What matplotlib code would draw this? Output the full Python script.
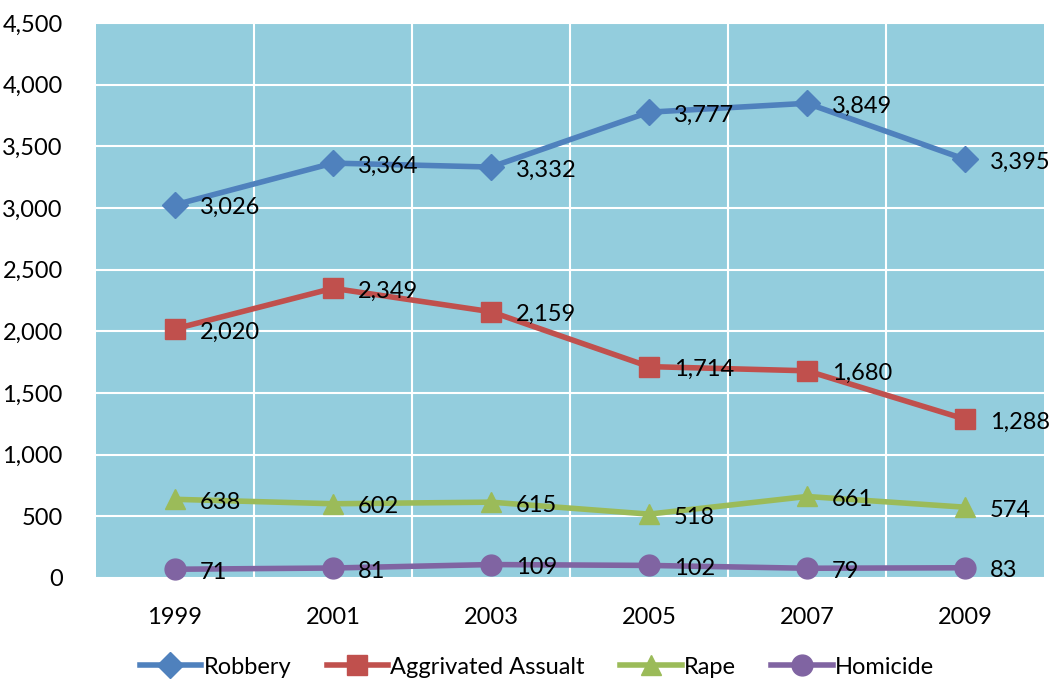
import numpy as np
import matplotlib.pyplot as plt
from matplotlib.ticker import FuncFormatter, MultipleLocator

plt.rcParams['font.family'] = ['Lato', 'DejaVu Sans']

years = ['1999', '2001', '2003', '2005', '2007', '2009']
robbery = [3026, 3364, 3332, 3777, 3849, 3395]
assault = [2020, 2349, 2159, 1714, 1680, 1288]
rape = [638, 602, 615, 518, 661, 574]
homicide = [71, 81, 109, 102, 79, 83]

series = [
    ('Robbery', robbery, '#4F81BD', 'D', 13),
    ('Aggrivated Assualt', assault, '#C0504D', 's', 14),
    ('Rape', rape, '#9BBB59', '^', 15),
    ('Homicide', homicide, '#8064A2', 'o', 15),
]

fig = plt.figure(figsize=(10.5, 6.81), dpi=100)
ax = fig.add_axes([96/1050, 1-578/681, 948/1050, 555/681])
ax.set_facecolor('#93CDDD')
x = np.arange(len(years))

for name, vals, col, mk, ms in series:
    ax.plot(x, vals, color=col, lw=4, marker=mk, markersize=ms, label=name,
            zorder=3, clip_on=False)
    for xi, v in zip(x, vals):
        ax.annotate('{:,}'.format(v), (xi, v), xytext=(25, -3),
                    textcoords='offset pixels', ha='left', va='center',
                    fontsize=17, color='black', zorder=4)

ax.set_xlim(-0.5, len(years)-0.5)
ax.set_ylim(0, 4500)
ax.yaxis.set_major_locator(MultipleLocator(500))
ax.yaxis.set_major_formatter(FuncFormatter(lambda v, p: '{:,}'.format(int(v))))
ax.set_xticks(x)
ax.set_xticklabels(years)
ax.set_xticks(np.arange(0.5, len(years)-0.5, 1), minor=True)
ax.grid(True, which='major', axis='y', color='white', lw=1.5)
ax.grid(True, which='minor', axis='x', color='white', lw=1.5)
ax.set_axisbelow(True)
for s in ax.spines.values():
    s.set_visible(False)
ax.tick_params(axis='both', which='both', length=0, labelsize=17)
ax.tick_params(axis='y', pad=24)
ax.tick_params(axis='x', pad=21)

fig.legend(loc='center', bbox_to_anchor=(537/1050, 1-667/681), ncol=4,
           frameon=False, fontsize=17, handlelength=2.6, handletextpad=0.1,
           columnspacing=1.5)

fig.savefig('out.png', dpi=100)
